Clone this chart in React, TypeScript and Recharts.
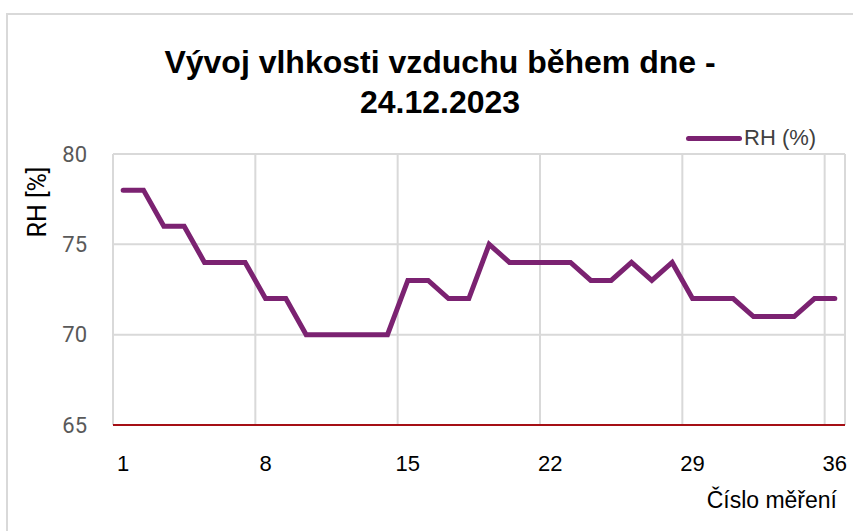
import { CartesianGrid, Line, LineChart, ReferenceLine, XAxis, YAxis } from "recharts";

const measurements = [
  1, 2, 3, 4, 5, 6, 7, 8, 9, 10, 11, 12, 13, 14, 15, 16, 17, 18, 19, 20, 21, 22, 23, 24, 25, 26,
  27, 28, 29, 30, 31, 32, 33, 34, 35, 36,
];
const rhValues = [
  78, 78, 76, 76, 74, 74, 74, 72, 72, 70, 70, 70, 70, 70, 73, 73, 72, 72, 75, 74, 74, 74, 74, 73,
  73, 74, 73, 74, 72, 72, 72, 71, 71, 71, 72, 72,
];
const yTicks = [65, 70, 75, 80];
const xGridAt = [1, 8, 15, 22, 29, 36];

const data = measurements.map((m, i) => ({ m, rh: rhValues[i] }));

const NARROW = "'Liberation Sans Narrow', 'Arial Narrow', sans-serif";
const LINE_COLOR = "#7B2271";
const GRID = "#D9D9D9";

const App = () => {
  return (
    <div
      style={{
        position: "absolute",
        left: 0,
        top: 0,
        width: 853,
        height: 531,
        overflow: "hidden",
        background: "#fff",
      }}
    >
      <div
        style={{
          position: "absolute",
          left: 6,
          top: 13,
          width: 900,
          height: 600,
          border: `2px solid ${GRID}`,
        }}
      />
      <div
        style={{
          position: "absolute",
          left: 0,
          top: 42,
          width: 880,
          textAlign: "center",
          fontFamily: NARROW,
          fontWeight: "bold",
          fontSize: 32,
          lineHeight: "40px",
          color: "#000",
        }}
      >
        Vývoj vlhkosti vzduchu během dne -
        <br />
        24.12.2023
      </div>
      <div
        style={{
          position: "absolute",
          left: 686,
          top: 125,
          display: "flex",
          alignItems: "center",
          fontFamily: NARROW,
          fontSize: 22,
          color: "#404040",
        }}
      >
        <span
          style={{
            display: "inline-block",
            width: 56,
            height: 5,
            borderRadius: 3,
            background: LINE_COLOR,
            marginRight: 2,
          }}
        />
        RH (%)
      </div>
      <div
        style={{
          position: "absolute",
          left: 0,
          top: 202,
          width: 76,
          transform: "translate(0px, -50%) rotate(-90deg)",
          transformOrigin: "38px 50%",
          textAlign: "center",
          fontFamily: "Roboto, Arial, sans-serif",
          fontSize: 25,
          color: "#000",
          lineHeight: "28px",
          whiteSpace: "nowrap",
        }}
      >
        RH [%]
      </div>
      <div
        style={{
          position: "absolute",
          right: 16,
          top: 487,
          fontFamily: NARROW,
          fontSize: 23,
          color: "#000",
        }}
      >
        Číslo měření
      </div>
      <div style={{ position: "absolute", left: 0, top: 0 }}>
        <LineChart
          width={853}
          height={531}
          data={data}
          margin={{ top: 154, right: 8, bottom: 76, left: 63 }}
        >
          <CartesianGrid vertical={false} stroke={GRID} strokeWidth={2} />
          {xGridAt.map((x) => (
            <ReferenceLine
              key={`g-${x}`}
              x={x}
              position="start"
              stroke={GRID}
              strokeWidth={2}
            />
          ))}
          <ReferenceLine x={36} position="end" stroke={GRID} strokeWidth={2} />
          <XAxis
            dataKey="m"
            scale="band"
            interval={6}
            tickLine={false}
            axisLine={{ stroke: "#A50F15", strokeWidth: 2 }}
            tickMargin={24}
            height={30}
            tick={{ fontFamily: NARROW, fontSize: 22, fill: "#000" }}
          />
          <YAxis
            domain={[65, 80]}
            ticks={yTicks}
            width={50}
            axisLine={false}
            tickLine={false}
            tickMargin={20}
            tick={{ fontFamily: "Roboto, Arial, sans-serif", fontSize: 22, fill: "#595959" }}
          />
          <Line
            dataKey="rh"
            stroke={LINE_COLOR}
            strokeWidth={5}
            dot={false}
            isAnimationActive={false}
            strokeLinejoin="miter"
            strokeLinecap="round"
          />
        </LineChart>
      </div>
    </div>
  );
};

export default App;
